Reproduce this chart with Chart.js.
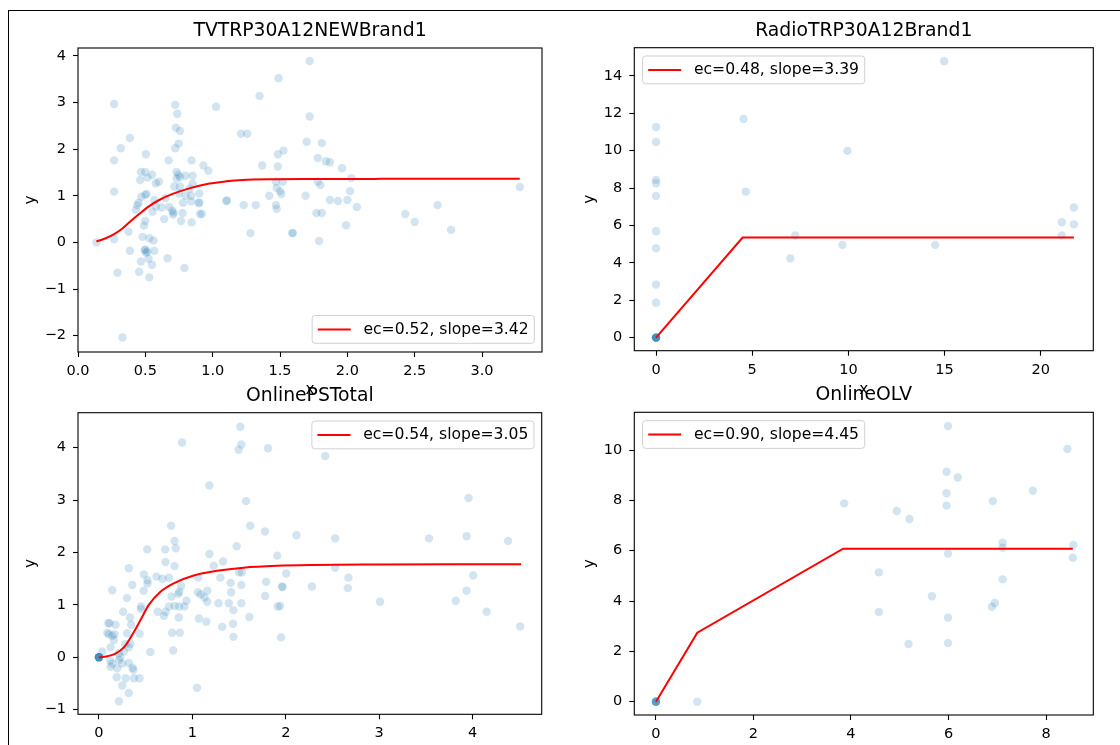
<!DOCTYPE html>
<html>
<head>
<meta charset="utf-8">
<script src="https://cdn.jsdelivr.net/npm/chart.js@4.4.1/dist/chart.umd.min.js"></script>
<style>
  html, body { margin: 0; padding: 0; background: #fff; }
  body { width: 1120px; height: 745px; position: relative; overflow: hidden; }
  .frame { position: absolute; left: 8px; top: 10px; width: 1200px; height: 800px;
           border-left: 1px solid #000; border-top: 1px solid #000; }
  canvas { position: absolute; }
</style>
</head>
<body>
<div class="frame"></div>
<canvas id="tv" width="550" height="395" style="left:10px;top:10px"></canvas>
<canvas id="radio" width="535" height="395" style="left:575px;top:10px"></canvas>
<canvas id="ps" width="550" height="370" style="left:10px;top:375px"></canvas>
<canvas id="olv" width="535" height="370" style="left:575px;top:375px"></canvas>
<script>
// --- TVTRP30A12NEWBrand1 ---
const tvX = [0.268, 0.268, 0.268, 0.318, 0.385, 0.504, 0.467, 0.499, 0.462, 0.516, 0.578, 0.499, 0.51, 0.45, 0.44,
  0.722, 0.737, 0.727, 0.757, 0.747, 0.722, 0.673, 0.732, 0.745, 0.757, 0.732, 0.715, 0.757, 0.797, 0.851,
  0.843, 0.851, 0.931, 0.968, 1.025, 0.90, 0.84, 0.84, 0.90, 1.10, 1.21, 1.256, 1.348, 1.368, 1.23,
  1.32, 1.489, 1.484, 1.526, 1.484, 1.47, 1.52, 1.475, 1.50, 1.51, 1.42, 1.47, 1.475, 1.698, 1.72,
  1.72, 1.81, 1.78, 1.84, 1.87, 1.96, 2.03, 2.02, 2.00, 2.07, 1.99, 1.87, 1.78, 1.80, 1.77,
  1.81, 1.79, 1.59, 1.69, 1.93, 2.43, 2.50, 2.67, 2.77, 3.28, 0.137, 0.268, 0.293, 0.33, 0.375,
  0.385, 0.43, 0.467, 0.454, 0.479, 0.49, 0.499, 0.495, 0.505, 0.515, 0.50, 0.529, 0.524, 0.549, 0.529,
  0.56, 0.566, 0.566, 0.578, 0.553, 0.64, 0.665, 0.70, 0.71, 0.705, 0.677, 0.765, 0.79, 0.777, 0.844,
  0.896, 0.906, 0.92, 1.107, 1.28, 1.596, 0.55, 0.60, 0.65, 0.75, 0.80, 0.83, 0.78, 0.62, 0.47];
const tvY = [2.97, 1.76, 1.09, 2.02, 2.24, 1.89, 1.51, 1.51, 1.34, 1.39, 1.27, 1.02, 1.04, 0.85, 0.80,
  2.95, 2.76, 2.46, 2.39, 2.12, 2.02, 1.76, 1.51, 1.45, 1.40, 1.37, 1.20, 1.20, 1.43, 1.43,
  1.76, 1.26, 1.65, 1.54, 2.91, 1.05, 1.00, 0.88, 0.86, 0.89, 2.33, 2.33, 3.14, 1.65, 0.80,
  0.80, 3.52, 1.89, 1.97, 1.63, 1.30, 1.30, 1.17, 1.10, 1.04, 1.00, 0.80, 0.72, 2.16, 3.89,
  2.70, 2.13, 1.81, 1.74, 1.72, 1.59, 1.38, 1.10, 0.91, 0.76, 0.37, 0.91, 1.30, 1.23, 0.63,
  0.63, 0.03, 0.20, 1.00, 0.89, 0.61, 0.44, 0.80, 0.27, 1.19, 0.00, 0.07, -0.65, -2.04, 0.23,
  -0.18, 0.70, -0.41, -0.63, 0.12, 0.36, 0.46, -0.17, -0.22, -0.20, -0.15, 0.09, -0.35, -0.48, -0.75,
  0.04, -0.18, 0.91, 0.77, 0.66, 0.50, -0.34, 0.68, 0.64, 0.60, 0.76, 0.46, -0.55, 0.63, 0.43,
  0.84, 0.61, 0.61, 0.90, 0.20, 0.20, 1.45, 1.30, 0.95, 1.05, 1.00, 1.15, 0.85, 0.75, 0.98];
const tvFitX = [0.137, 0.206, 0.268, 0.33, 0.392, 0.454, 0.529, 0.603, 0.702, 0.826, 0.95, 1.10, 1.223, 1.47, 1.72, 2.2, 2.8, 3.28];
const tvFitY = [0.02, 0.09, 0.18, 0.30, 0.46, 0.61, 0.78, 0.91, 1.04, 1.16, 1.25, 1.31, 1.34, 1.355, 1.36, 1.363, 1.365, 1.365];
const tvTicksX = [0, 0.5, 1, 1.5, 2, 2.5, 3];
const tvTicksY = [-2, -1, 0, 1, 2, 3, 4];
const tvRangeX = [0, 3.445];
const tvRangeY = [-2.35, 4.17];

// --- RadioTRP30A12Brand1 ---
const radioX = [0, 0, 0, 0, 0, 0, 0, 0, 0, 0, 0, 0, 0, 0, 0, 0, 0,
  4.55, 4.67, 7.24, 6.98, 9.95, 9.69, 14.98, 14.51, 21.09, 21.09, 21.72, 21.72];
const radioY = [0, 0, 0, 0, 0, 0, 0, 0, 11.27, 10.47, 8.44, 8.26, 7.58, 5.69, 4.78, 2.84, 1.87,
  11.70, 7.81, 5.46, 4.24, 9.99, 4.96, 14.79, 4.96, 6.17, 5.46, 6.96, 6.06];
const radioFitX = [0, 4.50, 21.72];
const radioFitY = [0, 5.35, 5.35];
const radioTicksX = [0, 5, 10, 15, 20];
const radioTicksY = [0, 2, 4, 6, 8, 10, 12, 14];
const radioRangeX = [-1.13, 22.73];
const radioRangeY = [-0.70, 15.51];

// --- OnlinePSTotal ---
const psX = [0, 0, 0, 0, 0, 0, 0, 0,
  0.89, 1.514, 1.525, 1.496, 1.81, 1.183, 1.575, 1.62, 0.773, 1.778, 2.115, 0.809, 0.517, 0.709, 0.823,
  1.183, 1.474, 1.909, 0.713, 0.809, 0.32, 1.229, 1.329,
  2.422, 3.957, 2.529, 3.533, 3.936, 4.38,
  2.005, 2.529, 2.671, 2.28, 2.664, 1.96, 3.01, 3.82, 3.936, 4.006, 4.15, 4.51, 1.94, 1.95,
  0.036, 0.143, 0.357, 0.30, 0.26, 0.332, 0.345, 0.303, 0.45, 0.45, 0.435, 0.10, 0.115, 0.09, 0.105,
  0.168, 0.178, 0.143, 0.16, 0.125, 0.28, 0.32, 0.335, 0.214, 0.267, 0.214, 0.23, 0.12, 0.143, 0.25,
  0.196, 0.125, 0.32, 0.36, 0.37, 0.19, 0.286, 0.375, 0.435, 0.25, 0.32, 0.214, 0.55, 0.795, 0.784,
  0.866, 0.855, 0.695, 0.714, 0.63, 0.75, 0.81, 0.86, 0.915, 0.937, 0.777, 0.86, 0.85, 0.48, 0.52,
  0.52, 0.48, 0.617, 0.68, 0.75, 0.88, 1.06, 1.09, 1.16, 1.13, 1.16, 1.07, 1.15, 1.05, 1.063,
  1.30, 1.28, 1.32, 1.39, 1.41, 1.415, 1.44, 1.436, 1.44, 1.50, 1.53, 1.525, 1.525, 1.61, 1.79,
  1.78, 1.913, 1.966];
const psY = [0, 0, 0, 0, 0, 0, 0, 0,
  4.10, 4.40, 4.06, 3.96, 3.99, 3.28, 2.98, 2.51, 2.51, 2.40, 2.33, 2.22, 2.06, 2.06, 2.08,
  1.97, 2.12, 1.94, 1.82, 1.74, 1.70, 1.75, 1.83,
  3.84, 3.04, 2.27, 2.27, 2.31, 2.22,
  1.60, 1.71, 1.52, 1.35, 1.32, 1.35, 1.06, 1.08, 1.27, 1.56, 0.87, 0.59, 0.98, 0.38,
  0.11, 1.28, 1.38, 1.13, 0.87, 0.76, 0.62, 0.46, 0.97, 0.92, 0.45, 0.65, 0.65, 0.47, 0.44,
  0.44, 0.62, 0.41, 0.33, 0.19, 0.25, 0.19, 0.26, 0.08, 0.11, -0.05, 0.00, -0.06, -0.12, -0.12,
  -0.21, -0.18, -0.11, -0.20, -0.24, -0.38, -0.40, -0.40, -0.40, -0.54, -0.68, -0.84, 0.10, 0.13, 0.47,
  0.47, 0.76, 0.79, 0.87, 0.87, 0.97, 0.98, 0.97, 0.97, 1.08, 1.16, 1.25, 1.21, 1.58, 1.47,
  1.41, 1.27, 1.54, 1.50, 1.52, 1.36, 1.24, 1.20, 1.27, 1.14, 1.06, 0.74, 0.68, -0.58, 1.52,
  1.52, 1.03, 0.58, 1.03, 1.42, 1.24, 0.90, 0.64, 0.39, 1.62, 1.62, 1.38, 1.03, 0.77, 1.44,
  1.17, 0.97, 1.34];
const psFitX = [0, 0.09, 0.178, 0.267, 0.357, 0.445, 0.534, 0.659, 0.80, 1.015, 1.265, 1.55, 1.906, 2.26, 3.0, 3.8, 4.52];
const psFitY = [0, 0.02, 0.07, 0.19, 0.43, 0.71, 1.00, 1.25, 1.41, 1.56, 1.65, 1.71, 1.745, 1.76, 1.77, 1.775, 1.775];
const psTicksX = [0, 1, 2, 3, 4];
const psTicksY = [-1, 0, 1, 2, 3, 4];
const psRangeX = [-0.224, 4.74];
const psRangeY = [-1.088, 4.668];

// --- OnlineOLV ---
const olvX = [0, 0, 0, 0, 0, 0, 0.848, 3.86, 4.94, 5.20, 4.57, 4.57, 5.18, 5.66, 5.99, 5.96, 6.19, 5.96,
  5.96, 5.99, 5.99, 5.99, 6.91, 7.11, 7.11, 7.11, 6.95, 6.89, 7.73, 8.44, 8.56, 8.55];
const olvY = [0, 0, 0, 0, 0, 0, 0, 7.88, 7.58, 7.26, 5.14, 3.56, 2.29, 4.19, 10.95, 9.14, 8.91, 8.28,
  7.79, 5.89, 3.34, 2.33, 7.97, 6.32, 6.12, 4.86, 3.92, 3.77, 8.38, 10.04, 6.23, 5.72];
const olvFitX = [0, 0.848, 3.84, 8.55];
const olvFitY = [0, 2.74, 6.08, 6.08];
const olvTicksX = [0, 2, 4, 6, 8];
const olvTicksY = [0, 2, 4, 6, 8, 10];
const olvRangeX = [-0.444, 8.97];
const olvRangeY = [-0.53, 11.50];

Chart.defaults.font.family = "'DejaVu Sans', sans-serif";
Chart.defaults.color = '#000';

const TICK_FONT = 14.5;
const LABEL_FONT = 15.3;
const LEGEND_FONT = 15.6;
const TITLE_FONT = 18.8;

// axes box like matplotlib spines + title centred over the axes
const framePlugin = {
    id: 'frame',
    afterDraw(chart, args, opts) {
        const { ctx, chartArea: a } = chart;
        ctx.save();
        ctx.strokeStyle = '#000';
        ctx.lineWidth = 1.1;
        ctx.strokeRect(a.left, a.top, a.right - a.left, a.bottom - a.top);
        ctx.font = `${TITLE_FONT}px 'DejaVu Sans'`;
        ctx.fillStyle = '#000';
        ctx.textAlign = 'center';
        ctx.textBaseline = 'middle';
        ctx.fillText(opts.title, (a.left + a.right) / 2, a.top - 17);
        ctx.restore();
    }
};

// matplotlib-style legend box inside the axes
const boxLegend = {
    id: 'boxLegend',
    afterDatasetsDraw(chart, args, opts) {
        const ds = chart.data.datasets.find(d => d.type === 'line');
        if (!ds || !opts.loc) return;
        const { ctx, chartArea: a } = chart;
        ctx.save();
        ctx.font = `${LEGEND_FONT}px 'DejaVu Sans'`;
        const tw = ctx.measureText(ds.label).width;
        const w = 5.6 + 33 + 12.7 + tw + 5.7, h = 27.8;
        const x = opts.loc.includes('left') ? a.left + 8.3 : a.right - 7.7 - w;
        const y = opts.loc.includes('upper') ? a.top + 8.3 : a.bottom - 8.7 - h;
        ctx.beginPath();
        ctx.roundRect(x, y, w, h, 3);
        ctx.fillStyle = 'rgba(255,255,255,0.8)';
        ctx.fill();
        ctx.strokeStyle = 'rgba(204,204,204,0.9)';
        ctx.lineWidth = 1;
        ctx.stroke();
        ctx.beginPath();
        ctx.moveTo(x + 5.6, y + h / 2);
        ctx.lineTo(x + 38.6, y + h / 2);
        ctx.strokeStyle = ds.borderColor;
        ctx.lineWidth = 2;
        ctx.stroke();
        ctx.fillStyle = '#000';
        ctx.textBaseline = 'middle';
        ctx.fillText(ds.label, x + 51.3, y + h / 2 + 0.5);
        ctx.restore();
    }
};

function makePanel(id, p) {
    const pts = p.x.map((x, i) => ({ x, y: p.y[i] }));
    const fit = p.fitX.map((x, i) => ({ x, y: p.fitY[i] }));
    new Chart(document.getElementById(id), {
        type: 'scatter',
        data: {
            datasets: [
                {
                    type: 'line', label: p.label, data: fit, order: 0,
                    borderColor: '#ff0000', borderWidth: 2, pointRadius: 0, fill: false,
                    cubicInterpolationMode: p.smooth ? 'monotone' : 'default', tension: 0
                },
                {
                    data: pts, order: 1,
                    backgroundColor: 'rgba(31,119,180,0.2)', borderWidth: 0,
                    pointRadius: 4.2, pointHoverRadius: 4.2
                }
            ]
        },
        options: {
            responsive: false,
            animation: false,
            devicePixelRatio: 1,
            events: [],
            layout: { padding: { left: 0, top: p.box.top, bottom: 0, right: p.box.padR } },
            plugins: {
                legend: { display: false },
                tooltip: { enabled: false },
                title: { display: false },
                frame: { title: p.title },
                boxLegend: { loc: p.loc }
            },
            scales: {
                x: {
                    type: 'linear', min: p.rangeX[0], max: p.rangeX[1],
                    afterBuildTicks: s => { s.ticks = p.ticksX.map(v => ({ value: v })); },
                    afterFit: s => { s.height = p.box.xh; },
                    ticks: {
                        autoSkip: false, maxRotation: 0, padding: 5.5, color: '#000',
                        font: { size: TICK_FONT },
                        callback: v => p.decX ? v.toFixed(p.decX) : String(v)
                    },
                    grid: { drawOnChartArea: false, tickLength: 5, tickColor: '#000', tickWidth: 1.1 },
                    border: { display: false },
                    title: {
                        display: p.showXTitle, text: 'x', color: '#000',
                        font: { size: LABEL_FONT }, padding: { top: 0, bottom: 5.5 }
                    }
                },
                y: {
                    type: 'linear', min: p.rangeY[0], max: p.rangeY[1],
                    afterBuildTicks: s => { s.ticks = p.ticksY.map(v => ({ value: v })); },
                    afterFit: s => { s.width = p.box.yw; },
                    ticks: {
                        autoSkip: false, padding: 7, color: '#000',
                        font: { size: TICK_FONT },
                        callback: v => String(v).replace('-', '\u2212')
                    },
                    grid: { drawOnChartArea: false, tickLength: 5, tickColor: '#000', tickWidth: 1.1 },
                    border: { display: false },
                    title: {
                        display: true, text: 'y', color: '#000',
                        font: { size: LABEL_FONT }, padding: { top: p.box.yPad, bottom: 0 }
                    }
                }
            }
        },
        plugins: [framePlugin, boxLegend]
    });
}

makePanel('tv', {
    title: 'TVTRP30A12NEWBrand1', label: 'ec=0.52, slope=3.42', loc: 'lower right',
    x: tvX, y: tvY, fitX: tvFitX, fitY: tvFitY, smooth: true,
    ticksX: tvTicksX, ticksY: tvTicksY, rangeX: tvRangeX, rangeY: tvRangeY,
    decX: 1, showXTitle: true,
    box: { top: 38, yw: 68, xh: 53, padR: 18, yPad: 11.5 }
});
makePanel('radio', {
    title: 'RadioTRP30A12Brand1', label: 'ec=0.48, slope=3.39', loc: 'upper left',
    x: radioX, y: radioY, fitX: radioFitX, fitY: radioFitY, smooth: false,
    ticksX: radioTicksX, ticksY: radioTicksY, rangeX: radioRangeX, rangeY: radioRangeY,
    decX: 0, showXTitle: true,
    box: { top: 37.7, yw: 59.3, xh: 54.3, padR: 16.7, yPad: 6 }
});
makePanel('ps', {
    title: 'OnlinePSTotal', label: 'ec=0.54, slope=3.05', loc: 'upper right',
    x: psX, y: psY, fitX: psFitX, fitY: psFitY, smooth: true,
    ticksX: psTicksX, ticksY: psTicksY, rangeX: psRangeX, rangeY: psRangeY,
    decX: 0, showXTitle: false,
    box: { top: 37.7, yw: 68, xh: 30.7, padR: 18.3, yPad: 11.5 }
});
makePanel('olv', {
    title: 'OnlineOLV', label: 'ec=0.90, slope=4.45', loc: 'upper left',
    x: olvX, y: olvY, fitX: olvFitX, fitY: olvFitY, smooth: false,
    ticksX: olvTicksX, ticksY: olvTicksY, rangeX: olvRangeX, rangeY: olvRangeY,
    decX: 0, showXTitle: false,
    box: { top: 37.3, yw: 59.3, xh: 30, padR: 16.7, yPad: 6 }
});
</script>
</body>
</html>
